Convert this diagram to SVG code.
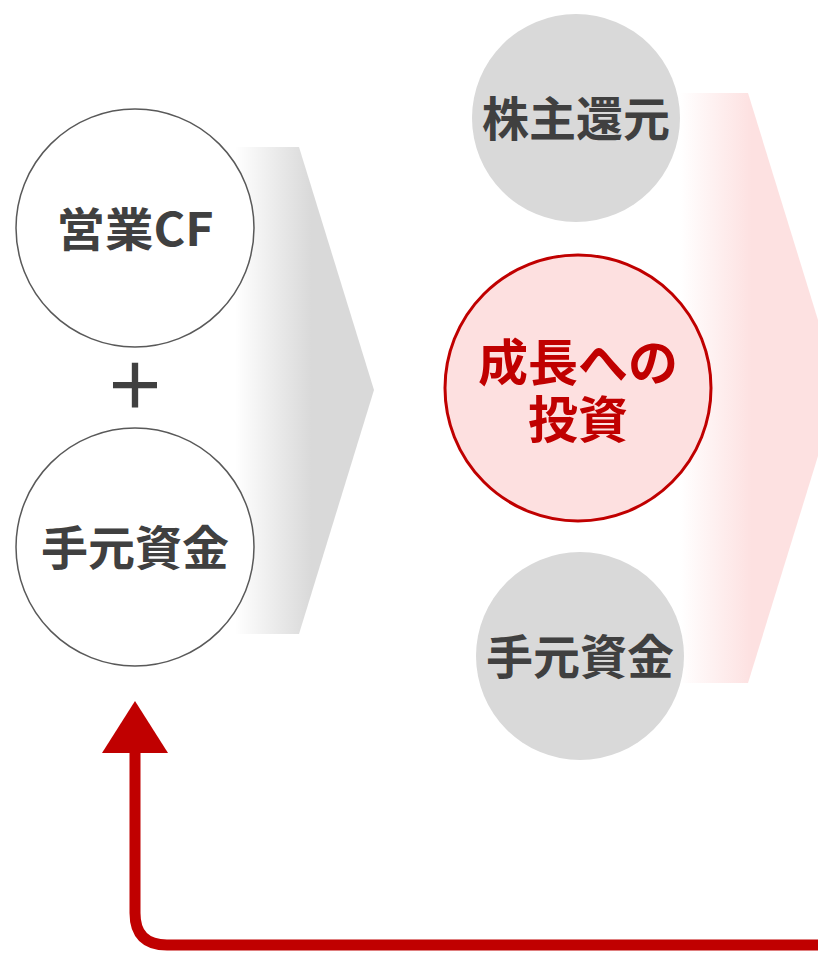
<svg xmlns="http://www.w3.org/2000/svg" width="818" height="956" viewBox="0 0 818 956">
<defs>
<linearGradient id="gGray" x1="0" y1="0" x2="1" y2="0">
<stop offset="0" stop-color="#ffffff"/>
<stop offset="0.55" stop-color="#d9d9d9"/>
<stop offset="1" stop-color="#d9d9d9"/>
</linearGradient>
<linearGradient id="gPink" x1="0" y1="0" x2="1" y2="0">
<stop offset="0" stop-color="#ffffff"/>
<stop offset="0.45" stop-color="#fde1e1"/>
<stop offset="1" stop-color="#fde1e1"/>
</linearGradient>
<style>
.t{font-family:"Noto Sans CJK JP","Noto Sans CJK SC",sans-serif;font-weight:bold;text-anchor:middle;fill:#404040}
.r{fill:#c00000}
.wc{fill:#ffffff;stroke:#595959;stroke-width:1.5}
.gc{fill:#d9d9d9}
</style>
</defs>
<g id="arrow-gray"><path d="M235,147 L299,147 L374,390 L299,634 L235,634 Z" fill="url(#gGray)"/></g>
<g id="arrow-pink"><path d="M680,93 L748,93 L839,388 L748,683 L680,683 Z" fill="url(#gPink)"/></g>
<g id="node-eigyo-cf"><circle class="wc" cx="135" cy="228" r="119"/><text class="t" x="135" y="246" font-size="46" textLength="157" lengthAdjust="spacingAndGlyphs">営業CF</text></g>
<g id="plus"><text class="t" x="135" y="409" font-size="62" style="font-weight:bold">＋</text></g>
<g id="node-temoto-left"><circle class="wc" cx="135" cy="547" r="119"/><text class="t" x="135" y="565" font-size="47">手元資金</text></g>
<g id="node-kabunushi"><circle class="gc" cx="576" cy="118" r="104"/><text class="t" x="576" y="136" font-size="47">株主還元</text></g>
<g id="node-seicho"><circle cx="578" cy="388" r="133" fill="#fde0e0" stroke="#c00000" stroke-width="3"/><text class="t r" font-size="50"><tspan x="578" y="381">成長への</tspan><tspan x="578" y="438">投資</tspan></text></g>
<g id="node-temoto-right"><circle class="gc" cx="580" cy="656" r="104"/><text class="t" x="580" y="674" font-size="47">手元資金</text></g>
<g id="connectors">
<path d="M830,945 L167,945 Q135,945 135,913 L135,745" fill="none" stroke="#c00000" stroke-width="11"/>
<polygon points="135,701 168,753 102,753" fill="#c00000"/>
</g>
</svg>
